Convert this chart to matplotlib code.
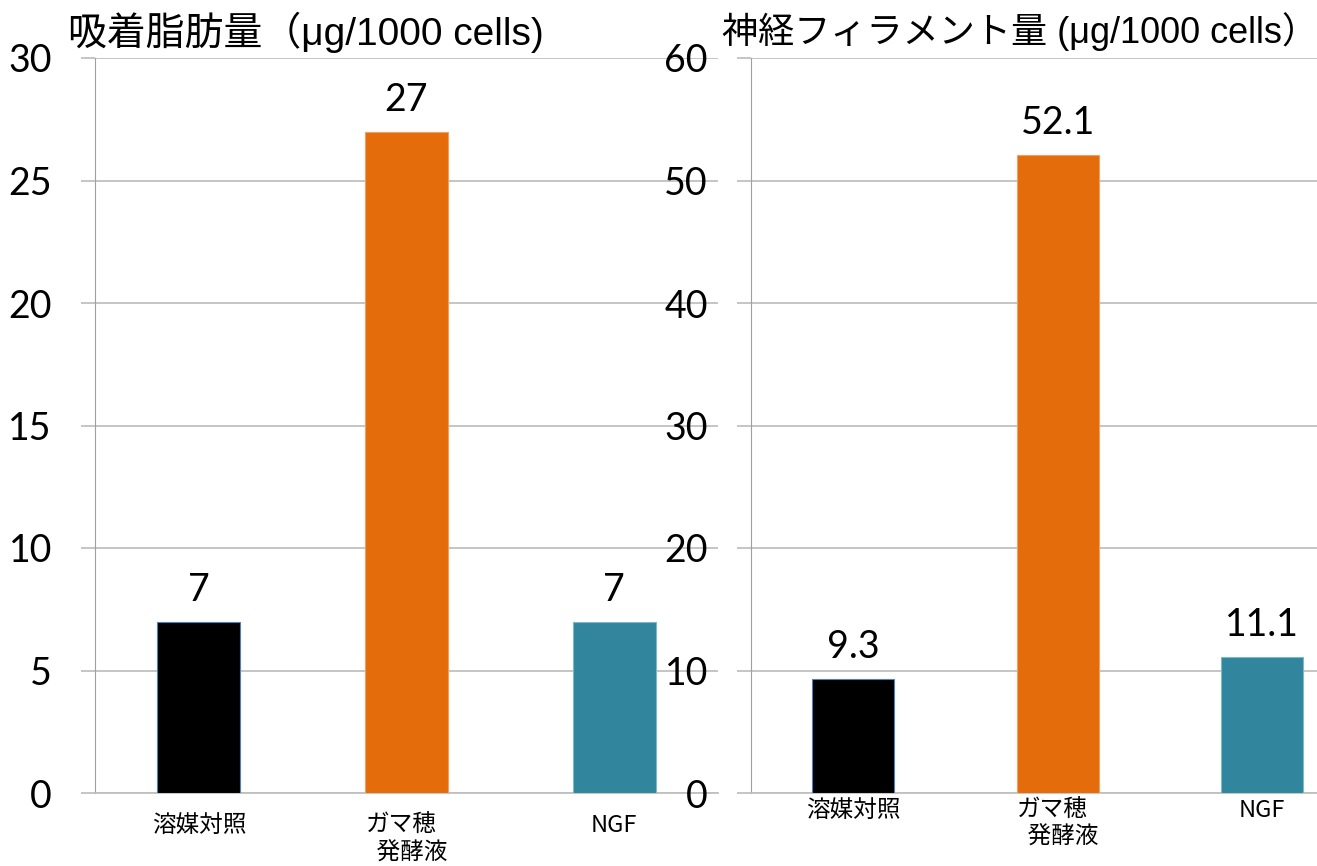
import matplotlib.pyplot as plt

plt.rcParams['font.family'] = ['Noto Sans CJK JP', 'DejaVu Sans']

categories = ['溶媒対照', 'ガマ穂\n  発酵液', 'NGF']
fat_values = [7, 27, 7]
nf_values = [9.3, 52.1, 11.1]
bar_colors = ['#000000', '#E46C0A', '#31859C']
edge_colors = ['#4F81BD', '#F0A060', '#7FB8C8']

title_left = '吸着脂肪量（μg/1000 cells)'
title_right = '神経フィラメント量 (μg/1000 cells）'

num_font = 'Lato'
title_fam = ['Liberation Sans', 'Noto Sans CJK JP']
grid_col = '#C0C0C0'
axis_col = '#A0A0A0'

fig = plt.figure(figsize=(13.17, 8.66), dpi=100)

def panel(rect, values, ymax, xmax, label_pad):
    ax = fig.add_axes(rect)
    x = range(len(values))
    bars = ax.bar(x, values, width=0.4, color=bar_colors,
                  edgecolor=edge_colors, linewidth=0.8, zorder=3)
    ax.set_xlim(-0.5, xmax)
    ax.set_ylim(0, ymax)
    ax.set_yticks(range(0, ymax + 1, ymax // 6))
    ax.yaxis.grid(True, color=grid_col, linewidth=1.3, zorder=0)
    ax.set_axisbelow(True)
    for s in ['top', 'right']:
        ax.spines[s].set_visible(False)
    ax.spines['left'].set_color(axis_col)
    ax.spines['bottom'].set_color(grid_col)
    ax.spines['bottom'].set_linewidth(1.3)
    ax.tick_params(axis='y', length=10, width=1.3, color=grid_col, pad=21,
                   labelsize=27)
    for t in ax.get_yticklabels():
        t.set_fontfamily(num_font)
    ax.set_xticks(list(x))
    ax.set_xticklabels(categories, fontsize=17, linespacing=1.25)
    for t in ax.get_xticklabels():
        t.set_multialignment('left')
    ax.tick_params(axis='x', length=0, pad=label_pad)
    lbls = ax.bar_label(bars, fmt='%g', padding=10, fontsize=27)
    for t in lbls:
        t.set_fontfamily(num_font)
    return ax

ax1 = panel([95 / 1317, 73 / 866, 623 / 1317, 735 / 866], fat_values, 30, 2.5, 15)
ax2 = panel([751 / 1317, 73 / 866, 566 / 1317, 735 / 866], nf_values, 60, 2.268, 4)

fig.text(68 / 1317, 1 - 32 / 866, title_left, fontsize=28, family=title_fam,
         va='center', ha='left')
fig.text(722 / 1317, 1 - 32 / 866, title_right, fontsize=26, family=title_fam,
         va='center', ha='left')

fig.savefig('out.png', dpi=100)
